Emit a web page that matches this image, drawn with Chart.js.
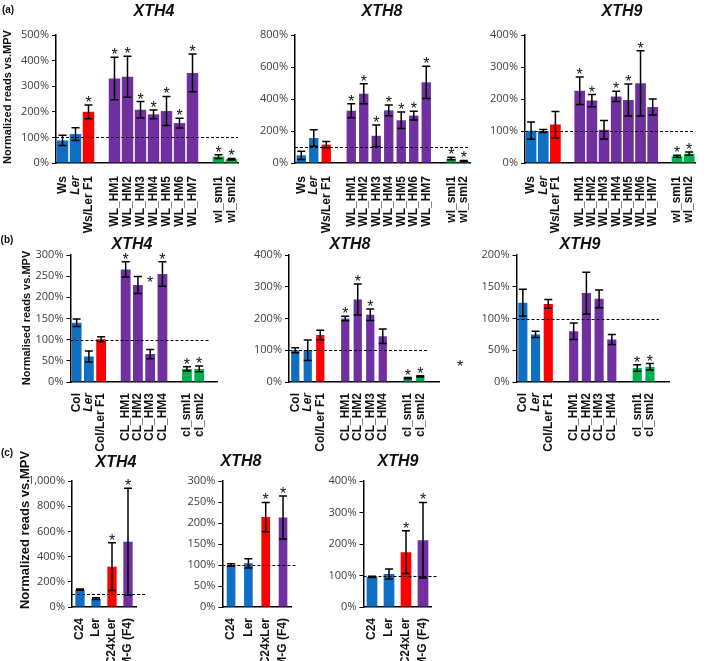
<!DOCTYPE html>
<html>
<head>
<meta charset="utf-8">
<script src="https://cdn.jsdelivr.net/npm/chart.js@4"></script>
<style>
  body { margin: 0; background: #fff; }
  #fig { position: relative; width: 709px; height: 661px; overflow: hidden; }
  canvas { position: absolute; }
</style>
</head>
<body>
<div id="fig"></div>
<script>
// ---- categories ----
const catsA = ['Ws', 'Ler', 'Ws/Ler F1', '', 'WL_HM1', 'WL_HM2', 'WL_HM3', 'WL_HM4', 'WL_HM5', 'WL_HM6', 'WL_HM7', '', 'wl_sml1', 'wl_sml2'];
const catsB = ['Col', 'Ler', 'Col/Ler F1', '', 'CL_HM1', 'CL_HM2', 'CL_HM3', 'CL_HM4', '', 'cl_sml1', 'cl_sml2', ''];
const catsC = ['C24', 'Ler', 'C24xLer', 'HM-G (F4)'];

// ---- (a) Ws x Ler ----
const aXth4 = [88, 113, 200, null, 330, 337, 208, 190, 203, 156, 352, null, 25, 15];
const aXth4Err = [20, 25, 27, 0, 83, 80, 32, 17, 57, 19, 74, 0, 7, 3];
const aXth4Star = [0, 0, 1, 0, 1, 1, 1, 1, 1, 1, 1, 0, 1, 1];

const aXth8 = [48, 156, 115, null, 327, 433, 170, 329, 267, 296, 504, null, 28, 12];
const aXth8Err = [26, 52, 20, 0, 44, 63, 67, 33, 51, 28, 101, 0, 8, 4];
const aXth8Star = [0, 0, 0, 0, 1, 1, 1, 1, 1, 1, 1, 0, 1, 1];

const aXth9 = [101, 100, 120, null, 226, 195, 104, 208, 197, 249, 175, null, 21, 29];
const aXth9Err = [27, 5, 41, 0, 43, 19, 29, 16, 50, 102, 25, 0, 3, 5];
const aXth9Star = [0, 0, 0, 0, 1, 1, 0, 1, 1, 1, 0, 0, 1, 1];

// ---- (b) Col x Ler ----
const bXth4 = [140, 60, 101, null, 266, 229, 66, 255, null, 31, 31, null];
const bXth4Err = [9, 13, 6, 0, 18, 20, 11, 29, 0, 5, 7, 0];
const bXth4Star = [0, 0, 0, 0, 1, 0, 0, 1, 0, 1, 1, 0];

const bXth8 = [100, 100, 148, null, 200, 260, 212, 144, null, 12, 18, null];
const bXth8Err = [8, 32, 15, 0, 7, 49, 18, 23, 0, 2, 2, 0];
const bXth8Star = [0, 0, 0, 0, 1, 1, 1, 0, 0, 1, 1, 0];

const bXth9 = [125, 75, 123, null, 80, 140, 131, 67, null, 22, 24, null];
const bXth9Err = [21, 5, 7, 0, 13, 33, 14, 8, 0, 5, 5, 0];
const bXth9Star = [0, 0, 0, 0, 0, 0, 0, 0, 0, 1, 1, 0];

// ---- (c) C24 x Ler ----
const cXth4 = [137, 66, 320, 518];
const cXth4Err = [5, 7, 190, 425];
const cXth8 = [100, 104, 214, 213];
const cXth8Err = [3, 11, 35, 51];
const cXth9 = [96, 105, 174, 212];
const cXth9Err = [2, 16, 68, 120];
const cStar = [0, 0, 1, 1];

const BLUE = '#0f6fc3', RED = '#ff0000', PURPLE = '#7030a0', GREEN = '#00b050';
const colorsA = [BLUE, BLUE, RED, null, PURPLE, PURPLE, PURPLE, PURPLE, PURPLE, PURPLE, PURPLE, null, GREEN, GREEN];
const colorsB = [BLUE, BLUE, RED, null, PURPLE, PURPLE, PURPLE, PURPLE, null, GREEN, GREEN, null];
const colorsC = [BLUE, BLUE, RED, PURPLE];

const TXT = 'Liberation Sans';

// draws reference line, error bars, stars and panel text
const decor = {
  id: 'decor',
  afterDatasetsDraw(chart, args, o) {
    const ctx = chart.ctx, ys = chart.scales.y, xs = chart.scales.x, ca = chart.chartArea;
    ctx.save();
    // dashed 100% line
    ctx.setLineDash([3, 2]);
    ctx.strokeStyle = '#000';
    ctx.lineWidth = 1;
    const yr = Math.round(ys.getPixelForValue(100)) + 0.5;
    ctx.beginPath();
    ctx.moveTo(ca.left, yr);
    ctx.lineTo(ca.right + (o.refExtra || 0), yr);
    ctx.stroke();
    ctx.setLineDash([]);

    ctx.font = '16px ' + TXT;
    ctx.fillStyle = '#111';
    ctx.textAlign = 'center';
    ctx.textBaseline = 'alphabetic';
    const m = ctx.measureText('*');
    const asc = m.actualBoundingBoxAscent, desc = m.actualBoundingBoxDescent;

    const meta = chart.getDatasetMeta(0);
    ctx.lineWidth = 1.5;
    meta.data.forEach((bar, i) => {
      const v = o.values[i];
      if (v == null) return;
      const e = o.errors[i];
      const yt = ys.getPixelForValue(v + e);
      const yb = ys.getPixelForValue(Math.max(0, v - e));
      ctx.beginPath();
      ctx.moveTo(bar.x, yt); ctx.lineTo(bar.x, yb);
      ctx.moveTo(bar.x - 4, yt); ctx.lineTo(bar.x + 4, yt);
      ctx.moveTo(bar.x - 4, yb); ctx.lineTo(bar.x + 4, yb);
      ctx.stroke();
      if (o.stars[i]) ctx.fillText('*', bar.x, yt - 3 - desc);
    });
    (o.looseStars || []).forEach(s => {
      const x = xs.getPixelForValue(s.i);
      const yc = ys.getPixelForValue(s.v);
      ctx.fillText('*', x, yc - (desc - asc) / 2);
    });

    // texts (absolute figure coords converted to canvas coords)
    (o.texts || []).forEach(t => {
      ctx.save();
      ctx.font = t.font;
      ctx.fillStyle = '#111';
      ctx.textAlign = 'center';
      ctx.textBaseline = 'middle';
      ctx.translate(t.x - o.ox, t.y - o.oy);
      if (t.rot) ctx.rotate(-Math.PI / 2);
      ctx.fillText(t.text, 0, 0);
      ctx.restore();
    });
    ctx.restore();
  }
};

const titleFont = 'italic bold 16px ' + TXT;

const panels = [
  // row (a)
  { x: 0, y: 0, w: 258, h: 252, left: 56, right: 238, top: 35, bottom: 163,
    labels: catsA, values: aXth4, errors: aXth4Err, stars: aXth4Star, colors: colorsA,
    max: 500, step: 100, barPct: 0.88, italicLer: true, labelPad: 5,
    texts: [
      { text: 'XTH4', x: 154, y: 12, font: titleFont },
      { text: '(a)', x: 8, y: 10, font: 'bold 10px ' + TXT },
      { text: 'Normalized reads vs.MPV', x: 8, y: 97, font: 'bold 11px ' + TXT, rot: true }
    ] },
  { x: 245, y: 0, w: 240, h: 252, left: 295, right: 470, top: 35, bottom: 163,
    labels: catsA, values: aXth8, errors: aXth8Err, stars: aXth8Star, colors: colorsA,
    max: 800, step: 200, barPct: 0.75, italicLer: true, labelPad: 5,
    texts: [{ text: 'XTH8', x: 382, y: 12, font: titleFont }] },
  { x: 478, y: 0, w: 231, h: 252, left: 525, right: 697, top: 35, bottom: 163,
    labels: catsA, values: aXth9, errors: aXth9Err, stars: aXth9Star, colors: colorsA,
    max: 400, step: 100, barPct: 0.88, italicLer: true, labelPad: 5,
    texts: [{ text: 'XTH9', x: 622, y: 12, font: titleFont }] },
  // row (b)
  { x: 0, y: 225, w: 235, h: 235, left: 70.5, right: 217.6, top: 255, bottom: 382,
    labels: catsB, values: bXth4, errors: bXth4Err, stars: bXth4Star, colors: colorsB,
    max: 300, step: 50, barPct: 0.8, italicLer: true, refExtra: -9, labelPad: 3,
    looseStars: [{ i: 6, v: 243 }],
    texts: [
      { text: 'XTH4', x: 132, y: 245, font: titleFont },
      { text: '(b)', x: 7, y: 240, font: 'bold 10px ' + TXT },
      { text: 'Normalised reads vs.MPV', x: 27, y: 318, font: 'bold 11px ' + TXT, rot: true }
    ] },
  { x: 235, y: 225, w: 232, h: 235, left: 289, right: 439, top: 255, bottom: 382,
    labels: catsB, values: bXth8, errors: bXth8Err, stars: bXth8Star, colors: colorsB,
    max: 400, step: 100, barPct: 0.66, italicLer: true, refExtra: -10, labelPad: 3,
    texts: [
      { text: 'XTH8', x: 350, y: 245, font: titleFont },
      { text: '*', x: 460, y: 368, font: '16px ' + TXT }
    ] },
  { x: 467, y: 225, w: 230, h: 235, left: 516.5, right: 669, top: 255, bottom: 382,
    labels: catsB, values: bXth9, errors: bXth9Err, stars: bXth9Star, colors: colorsB,
    max: 200, step: 50, barPct: 0.72, italicLer: true, refExtra: -10, labelPad: 3,
    texts: [{ text: 'XTH9', x: 580, y: 245, font: titleFont }] },
  // row (c)
  { x: 0, y: 440, w: 160, h: 221, left: 72, right: 136, top: 481, bottom: 607,
    labels: catsC, values: cXth4, errors: cXth4Err, stars: cStar, colors: colorsC,
    max: 1000, step: 200, barPct: 0.58, italicLer: false, refExtra: 9, labelPad: 3,
    texts: [
      { text: 'XTH4', x: 116, y: 463, font: titleFont },
      { text: '(c)', x: 7, y: 453, font: 'bold 10px ' + TXT },
      { text: 'Normalized reads vs.MPV', x: 25, y: 530, font: 'bold 13px ' + TXT, rot: true }
    ] },
  { x: 160, y: 440, w: 150, h: 221, left: 222.4, right: 291.7, top: 481, bottom: 607,
    labels: catsC, values: cXth8, errors: cXth8Err, stars: cStar, colors: colorsC,
    max: 300, step: 50, barPct: 0.5, italicLer: false, refExtra: 5, labelPad: 3,
    texts: [{ text: 'XTH8', x: 241, y: 462, font: titleFont }] },
  { x: 305, y: 440, w: 150, h: 221, left: 363.5, right: 431.5, top: 481, bottom: 607,
    labels: catsC, values: cXth9, errors: cXth9Err, stars: cStar, colors: colorsC,
    max: 400, step: 100, barPct: 0.63, italicLer: false, refExtra: 5, labelPad: 3,
    texts: [{ text: 'XTH9', x: 398, y: 462, font: titleFont }] }
];

const fig = document.getElementById('fig');

panels.forEach(p => {
  const cv = document.createElement('canvas');
  cv.width = p.w;
  cv.height = p.h;
  cv.style.left = p.x + 'px';
  cv.style.top = p.y + 'px';
  cv.style.width = p.w + 'px';
  cv.style.height = p.h + 'px';
  fig.appendChild(cv);

  new Chart(cv.getContext('2d'), {
    type: 'bar',
    data: {
      labels: p.labels,
      datasets: [{
        data: p.values,
        backgroundColor: p.colors,
        borderWidth: 0,
        barPercentage: p.barPct,
        categoryPercentage: 1
      }]
    },
    options: {
      responsive: false,
      animation: false,
      devicePixelRatio: 1,
      layout: { padding: { top: p.top - p.y, right: p.x + p.w - p.right, left: 0, bottom: 0 } },
      plugins: {
        legend: { display: false },
        tooltip: { enabled: false },
        decor: {
          values: p.values, errors: p.errors, stars: p.stars,
          looseStars: p.looseStars, refExtra: p.refExtra,
          texts: p.texts, ox: p.x, oy: p.y
        }
      },
      scales: {
        x: {
          grid: { display: false },
          border: { display: true, color: '#000', width: 1.5 },
          ticks: {
            autoSkip: false, maxRotation: 90, minRotation: 90, padding: p.labelPad, color: '#111',
            font: c => ({
              family: TXT, size: 12, weight: 'bold',
              style: (p.italicLer && p.labels[c.index] === 'Ler') ? 'italic' : 'normal'
            })
          },
          afterFit: s => { s.height = p.y + p.h - p.bottom; }
        },
        y: {
          min: 0, max: p.max,
          ticks: {
            stepSize: p.step, padding: 3, color: '#404040',
            font: { family: 'Open Sans', size: 11 },
            callback: v => v.toLocaleString('en-US') + '%'
          },
          grid: { drawOnChartArea: false, tickLength: 4, color: '#000', lineWidth: 1 },
          border: { display: true, color: '#000', width: 1.5 },
          afterFit: s => { s.width = p.left - p.x; }
        }
      }
    },
    plugins: [decor]
  });
});
</script>
</body>
</html>
